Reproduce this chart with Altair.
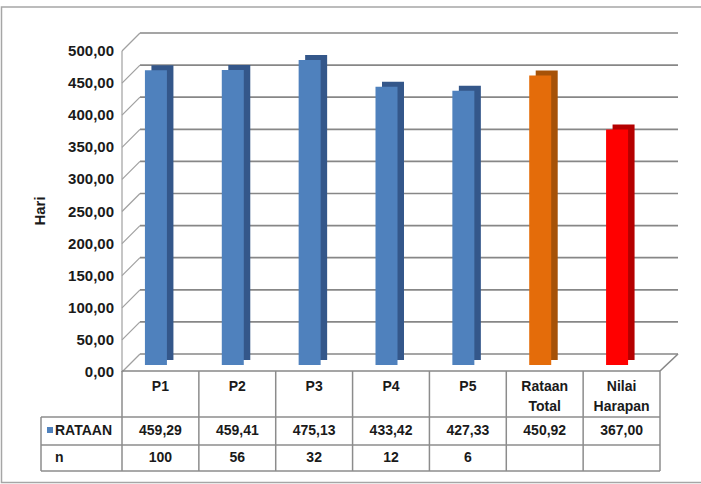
import altair as alt
import pandas as pd

# ---- data ----
categories = ["P1", "P2", "P3", "P4", "P5", "Rataan Total", "Nilai Harapan"]
rataan = [459.29, 459.41, 475.13, 433.42, 427.33, 450.92, 367.00]
n_values = [100, 56, 32, 12, 6, None, None]
y_ticks = [0, 50, 100, 150, 200, 250, 300, 350, 400, 450, 500]
y_title = "Hari"

# ---- styles ----
face_colors = ["#4F81BD", "#4F81BD", "#4F81BD", "#4F81BD", "#4F81BD", "#E46C0A", "#FF0000"]
side_colors = ["#34578A", "#34578A", "#34578A", "#34578A", "#34578A", "#A65208", "#B50000"]
FONT = "Liberation Sans"
TXT = "#1a1a1a"
GRID = "#878787"

df = pd.DataFrame({"cat": categories, "value": rataan, "n": n_values})
ticks_df = pd.DataFrame({"tick": y_ticks})
one = pd.DataFrame({"k": [0]})

yscale = alt.Scale(domain=[0, 500], nice=False, zero=True)
xscale = alt.Scale(domain=categories, paddingInner=0, paddingOuter=0)
X = alt.X("cat:N", scale=xscale, axis=None, sort=categories)
YT = alt.Y("tick:Q", scale=yscale, axis=None)

# back wall gridlines
grid_layer = alt.Chart(ticks_df).mark_rule(color=GRID, strokeWidth=1.7).encode(
    x=alt.value(0), x2=alt.value(538), y=YT
)
# tick labels on the front edge
tick_labels = alt.Chart(ticks_df).transform_calculate(
    lab="replace(format(datum.tick, '.2f'), '.', ',')"
).mark_text(font=FONT, fontSize=15, fontWeight="bold", color=TXT, align="right",
            baseline="middle", yOffset=18).encode(
    x=alt.value(-26), y=YT, text="lab:N"
)
title_layer = alt.Chart(one).mark_text(text=y_title, font=FONT, fontSize=15, fontWeight="bold",
                                       color=TXT, angle=270, align="center",
                                       baseline="middle").encode(
    x=alt.value(-100), y=alt.value(178)
)

# side wall diagonals
diag = alt.Chart(ticks_df).mark_rule(color="#a0a0a0", strokeWidth=1.2, y2Offset=18).encode(
    x=alt.value(0), x2=alt.value(-18), y=YT, y2=alt.Y2("tick:Q"),
)
left_edge = alt.Chart(one).mark_rule(color="#a0a0a0", strokeWidth=1.2, yOffset=18, y2Offset=18).encode(
    x=alt.value(-18), y=alt.datum(500, scale=yscale, axis=None), y2=alt.datum(0)
)
# floor front line and right diagonal
floor_front = alt.Chart(one).mark_rule(color=GRID, strokeWidth=1.6, yOffset=17).encode(
    x=alt.value(-18), x2=alt.value(520), y=alt.datum(0, scale=yscale, axis=None)
)
floor_right = alt.Chart(one).mark_rule(color=GRID, strokeWidth=1.6, yOffset=17, y2Offset=0).encode(
    x=alt.value(520), x2=alt.value(538), y=alt.datum(0, scale=yscale, axis=None), y2=alt.datum(0)
)

# bars: dark depth copy, then front face
bar_depth = alt.Chart(df).mark_bar(size=22, xOffset=-16, yOffset=6, y2Offset=6).encode(
    x=X,
    y=alt.Y("value:Q", scale=yscale, axis=None), y2=alt.datum(0),
    color=alt.Color("cat:N", scale=alt.Scale(domain=categories, range=side_colors), legend=None),
)
bar_face = alt.Chart(df).mark_bar(size=22, xOffset=-22.5, yOffset=11, y2Offset=11).encode(
    x=X,
    y=alt.Y("value:Q", scale=yscale, axis=None), y2=alt.datum(0),
    color=alt.Color("cat:N", scale=alt.Scale(domain=categories, range=face_colors), legend=None),
)

# ---- data table ----
TB = "#8c8c8c"
h_lines = []
for yy in [384, 412, 438]:
    h_lines.append(alt.Chart(one).mark_rule(color=TB, strokeWidth=1.5).encode(
        x=alt.value(-99), x2=alt.value(520), y=alt.value(yy)))
v_cols = alt.Chart(df).mark_rule(color=TB, strokeWidth=1.5, xOffset=-18).encode(
    x=alt.X("cat:N", scale=xscale, axis=None, sort=categories, bandPosition=0),
    y=alt.value(338), y2=alt.value(438),
)
v_right = alt.Chart(one).mark_rule(color=TB, strokeWidth=1.5).encode(
    x=alt.value(520), y=alt.value(338), y2=alt.value(438))
v_left = alt.Chart(one).mark_rule(color=TB, strokeWidth=1.5).encode(
    x=alt.value(-99), y=alt.value(384), y2=alt.value(438))

header = alt.Chart(df).transform_calculate(
    lab="replace(datum.cat, ' ', '\\n')"
).mark_text(font=FONT, fontSize=14, fontWeight="bold", color=TXT, baseline="top",
            lineBreak="\n", lineHeight=20, xOffset=-18).encode(
    x=X, y=alt.value(347), text="lab:N")

vals = alt.Chart(df).transform_calculate(
    lab="replace(format(datum.value, '.2f'), '.', ',')"
).mark_text(font=FONT, fontSize=14, fontWeight="bold", color=TXT, baseline="middle",
            xOffset=-18).encode(
    x=X, y=alt.value(398), text="lab:N")

nrow = alt.Chart(df).transform_filter("isValid(datum.n)").mark_text(
    font=FONT, fontSize=14, fontWeight="bold", color=TXT, baseline="middle", xOffset=-18).encode(
    x=X, y=alt.value(425), text=alt.Text("n:Q", format="d"))

rataan_lab = alt.Chart(one).mark_text(text="RATAAN", font=FONT, fontSize=14, fontWeight="bold",
                                      color=TXT, align="left", baseline="middle").encode(
    x=alt.value(-85), y=alt.value(398))
n_lab = alt.Chart(one).mark_text(text="n", font=FONT, fontSize=14, fontWeight="bold",
                                 color=TXT, align="left", baseline="middle").encode(
    x=alt.value(-85), y=alt.value(425))
legend_sq = alt.Chart(one).mark_square(size=36, color="#4F81BD", opacity=1).encode(
    x=alt.value(-90), y=alt.value(397))

frame = alt.Chart(one).mark_rect(fill=None, stroke="#a6a6a6", strokeWidth=1.5).encode(
    x=alt.value(-138.5), x2=alt.value(563), y=alt.value(-26), y2=alt.value(449.5))

chart = alt.layer(
    frame, grid_layer, diag, left_edge, floor_front, floor_right,
    bar_depth, bar_face,
    *h_lines, v_cols, v_right, v_left,
    tick_labels, title_layer,
    header, vals, nrow, rataan_lab, n_lab, legend_sq,
).resolve_scale(color="independent").properties(
    width=538, height=321,
    autosize=alt.AutoSizeParams(type="none"),
    padding={"left": 140, "top": 33, "right": 23, "bottom": 130},
    background="white",
).configure_view(stroke=None)

chart.save("out.html", embed_options={"renderer": "svg", "actions": False})
